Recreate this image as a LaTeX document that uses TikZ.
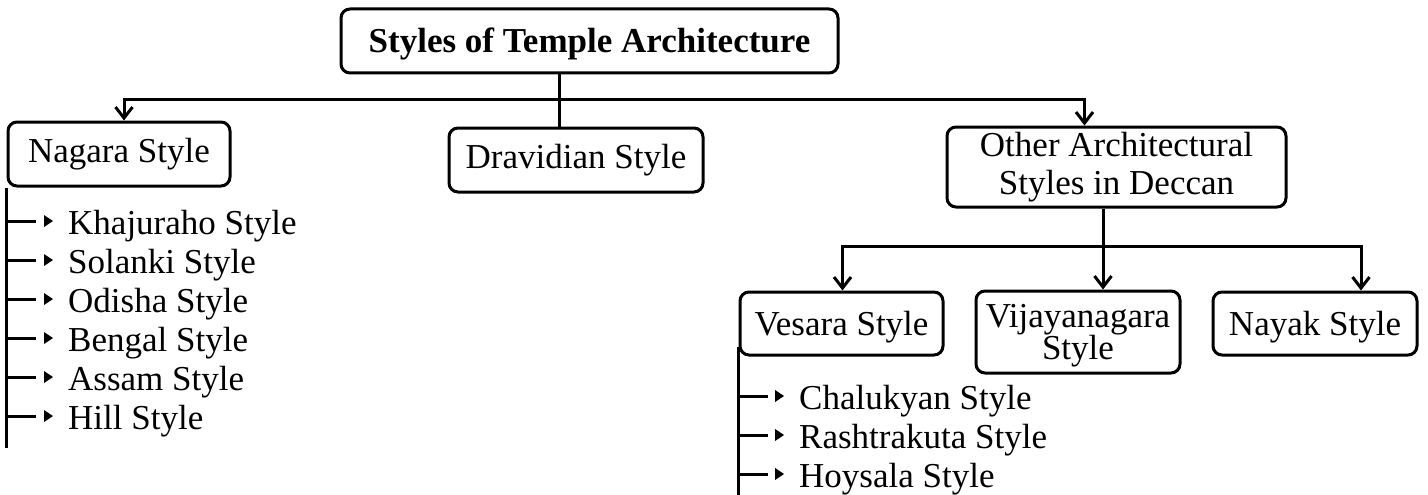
\documentclass[tikz,border=0pt]{standalone}
\usepackage{fontspec}
\setmainfont{Liberation Serif}
\usetikzlibrary{arrows.meta}

\begin{document}
\begin{tikzpicture}[x=1pt,y=-1pt,
    font=\fontsize{35}{38}\selectfont,
    box/.style={draw,line width=3pt,rounded corners=9pt,inner sep=0pt,align=center},
    single/.style={text height=24pt,text depth=8pt},
    item/.style={anchor=west,inner sep=0pt,text height=26pt,text depth=0pt},
    link/.style={line width=3pt},
    arr/.style={link,-{Straight Barb[length=11pt,width=17pt]}},
    tip/.style={link,-{Triangle[length=9pt,width=12pt,line width=0pt]},shorten >=15pt}]
      \useasboundingbox (0,0) rectangle (1428,495);

      \node[box,single,text depth=1pt,minimum width=497pt,minimum height=64pt] (T) at (589.5,41) {\bfseries Styles of Temple Architecture};
      \node[box,single,minimum width=222pt,minimum height=64pt] (N) at (119,154) {Nagara Style};
      \node[box,single,minimum width=254pt,minimum height=64pt] (D) at (576,160) {Dravidian Style};
      \node[box,minimum width=339pt,minimum height=80pt] (O) at (1116.5,167) {Other Architectural\\Styles in Deccan};
      \node[box,single,text depth=1pt,minimum width=203pt,minimum height=63pt] (V) at (841.5,323.5) {Vesara Style};
      \node[box,font=\fontsize{35}{32}\selectfont,text depth=0pt,minimum width=204pt,minimum height=82pt] (J) at (1078,332) {Vijayanagara\\Style};
      \node[box,single,text depth=1pt,minimum width=204pt,minimum height=63pt] (Y) at (1315,323.5) {Nayak Style};

      \coordinate (top) at (559,100);
      \coordinate (sub) at (1103,246);

      \draw[link] (T.south -| top) -- (D.north -| top);
      \draw[arr]  (top) -| ([xshift=5pt]N.north);
      \draw[arr]  (top) -| ([xshift=-32pt]O.north);
      \draw[link] (O.south -| sub) -- (sub);
      \draw[arr]  (sub) -| ([xshift=1pt]V.north);
      \draw[arr]  (sub) -- (J.north -| sub);
      \draw[arr]  (sub) -| ([xshift=46pt]Y.north);

      \node[item] (N1) at (68,221) {Khajuraho Style};
      \node[item] (N2) at (68,260) {Solanki Style};
      \node[item] (N3) at (68,299) {Odisha Style};
      \node[item] (N4) at (68,338) {Bengal Style};
      \node[item] (N5) at (68,377) {Assam Style};
      \node[item] (N6) at (68,416) {Hill Style};
      \coordinate (Nend) at (N.west |- 0,448);
      \draw[link] (N.south west) -- (Nend);
      \draw[tip] (N.west |- N1.west) -- +(29,0) ++(37,0) -- (N1.west);
      \draw[tip] (N.west |- N2.west) -- +(29,0) ++(37,0) -- (N2.west);
      \draw[tip] (N.west |- N3.west) -- +(29,0) ++(37,0) -- (N3.west);
      \draw[tip] (N.west |- N4.west) -- +(29,0) ++(37,0) -- (N4.west);
      \draw[tip] (N.west |- N5.west) -- +(29,0) ++(37,0) -- (N5.west);
      \draw[tip] (N.west |- N6.west) -- +(29,0) ++(37,0) -- (N6.west);

      \node[item] (V1) at (799,396) {Chalukyan Style};
      \node[item] (V2) at (799,435) {Rashtrakuta Style};
      \node[item] (V3) at (799,474) {Hoysala Style};
      \coordinate (Vend) at (V.west |- 0,495);
      \draw[link] (V.south west) ++(0,-10) -- (Vend);
      \draw[tip] (V.west |- V1.west) -- +(29,0) ++(37,0) -- (V1.west);
      \draw[tip] (V.west |- V2.west) -- +(29,0) ++(37,0) -- (V2.west);
      \draw[tip] (V.west |- V3.west) -- +(29,0) ++(37,0) -- (V3.west);
    \end{tikzpicture}
\end{document}
